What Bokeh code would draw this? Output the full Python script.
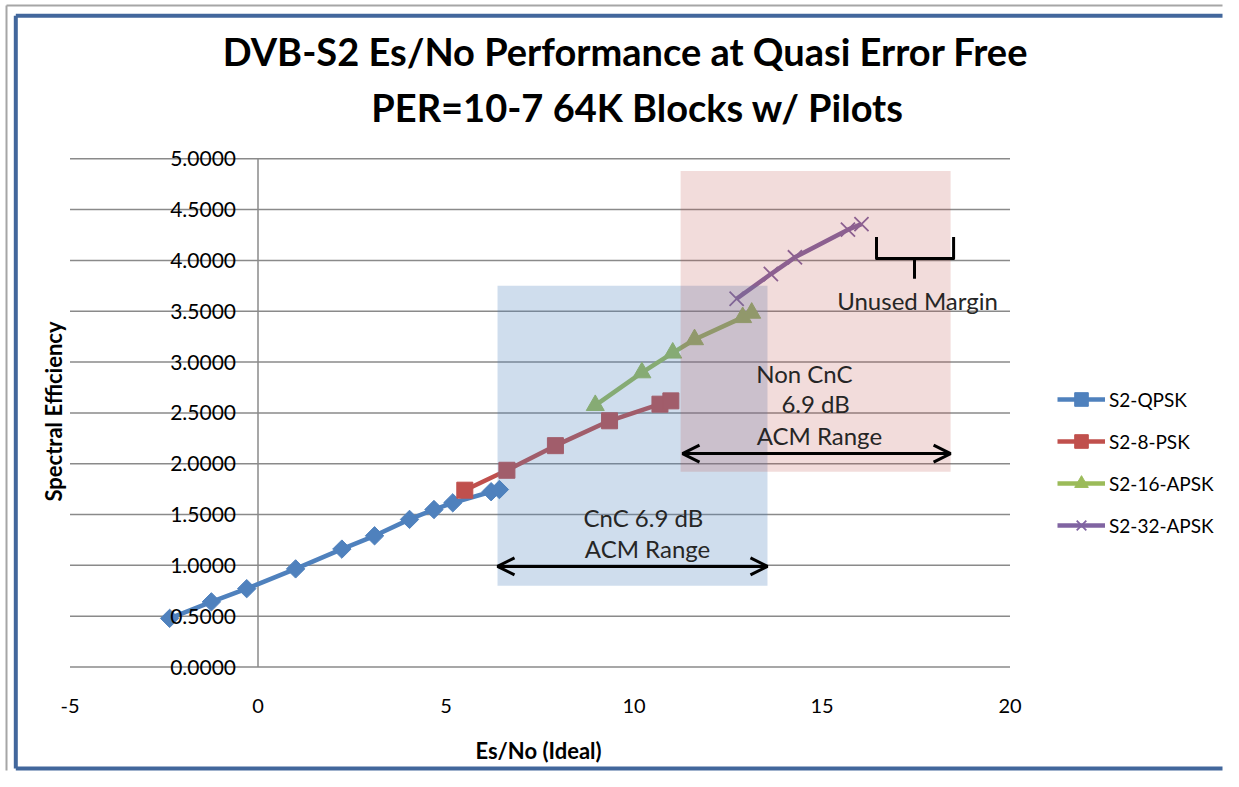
import math
from bokeh.plotting import figure
from bokeh.models import Legend, LegendItem, Arrow, OpenHead
from bokeh.core.properties import value
from bokeh.embed import file_html
from bokeh.resources import INLINE

# ---------------- data ----------------
qpsk_esno = [-2.35, -1.24, -0.30, 1.00, 2.23, 3.10, 4.03, 4.68, 5.18, 6.20, 6.42]
qpsk_se = [0.4786, 0.6408, 0.7706, 0.9653, 1.1600, 1.2908, 1.4521, 1.5494, 1.6153, 1.7244, 1.7460]

psk8_esno = [5.50, 6.62, 7.91, 9.35, 10.69, 10.98]
psk8_se = [1.7396, 1.9357, 2.1776, 2.4223, 2.5860, 2.6184]

apsk16_esno = [8.97, 10.21, 11.03, 11.61, 12.89, 13.13]
apsk16_se = [2.5747, 2.8964, 3.0906, 3.2220, 3.4396, 3.4828]

apsk32_esno = [12.73, 13.64, 14.28, 15.69, 16.05]
apsk32_se = [3.6233, 3.8663, 4.0306, 4.3029, 4.3569]

series_names = ["S2-QPSK", "S2-8-PSK", "S2-16-APSK", "S2-32-APSK"]

x_ticks = [-5, 0, 5, 10, 15, 20]
x_tick_labels = ["-5", "0", "5", "10", "15", "20"]
y_ticks = [0.0, 0.5, 1.0, 1.5, 2.0, 2.5, 3.0, 3.5, 4.0, 4.5, 5.0]
y_tick_labels = ["0.0000", "0.5000", "1.0000", "1.5000", "2.0000", "2.5000",
                 "3.0000", "3.5000", "4.0000", "4.5000", "5.0000"]

title_lines = ["DVB-S2 Es/No Performance at Quasi Error Free", "PER=10-7 64K Blocks w/ Pilots"]
x_title = "Es/No (Ideal)"
y_title = "Spectral Efficiency"

# ACM range boxes (Es/No range, spectral-efficiency extent)
range_left = [6.37, 11.24]
range_right = [13.55, 18.42]
range_bottom = [0.80, 1.92]
range_top = [3.75, 4.88]

# range arrows
arrow_x0 = [6.37, 11.29]
arrow_x1 = [13.55, 18.42]
arrow_y = [0.99, 2.10]

# annotation texts
note_x = [14.53, 14.83, 14.93, 10.25, 10.36, 17.54]
note_y = [2.89, 2.59, 2.28, 1.47, 1.17, 3.61]
note_text = ["Non CnC", "6.9 dB", "ACM Range", "CnC 6.9 dB", "ACM Range", "Unused Margin"]

# "unused margin" brace
brace_xs = [[16.45, 16.45, 18.50, 18.50], [17.46, 17.46]]
brace_ys = [[4.23, 4.02, 4.02, 4.23], [4.02, 3.82]]

# ---------------- layout ----------------
W, H = 1223, 771
PX_XMIN, PX_XMAX = 69.5, 1009.5      # pixel columns of x = -5 and x = 20
PX_YMIN, PX_YMAX = 666.5, 158.3      # pixel rows of y = 0 and y = 5
KX = (PX_XMAX - PX_XMIN) / (x_ticks[-1] - x_ticks[0])
KY = (PX_YMIN - PX_YMAX) / (y_ticks[-1] - y_ticks[0])


def X(px):
    return x_ticks[0] + (px - PX_XMIN) / KX


def Y(py):
    return y_ticks[0] + (PX_YMIN - py) / KY


FONT = "Lato"
GRID = "#8a8a8a"
TXT = "black"
C_QPSK, C_8PSK, C_16, C_32 = "#4f81bd", "#c0504d", "#9bbb59", "#8064a2"

p = figure(width=W, height=H, x_range=(X(0), X(W)), y_range=(Y(H), Y(0)),
           output_backend="svg", toolbar_location=None,
           x_axis_location=None, y_axis_location=None, min_border=0)
p.title.visible = False
p.outline_line_color = None
p.grid.visible = False
p.background_fill_color = "white"
p.border_fill_color = "white"

# chart borders (outer grey line, inner blue line); open on the right like the cropped original
p.segment(x0=[X(6), X(6)], y0=[Y(5), Y(5)], x1=[X(6), X(W - 1)], y1=[Y(H - 1), Y(5)],
          line_color="#a6a6a6", line_width=2)
p.segment(x0=[X(15.3), X(15.3), X(15.3)], y0=[Y(15.3), Y(15.3), Y(H - 3)],
          x1=[X(15.3), X(W - 1), X(W - 1)], y1=[Y(H - 3), Y(15.3), Y(H - 3)],
          line_color="#42679c", line_width=4)

# gridlines and vertical axis line
p.segment(x0=[x_ticks[0]] * len(y_ticks), x1=[x_ticks[-1]] * len(y_ticks),
          y0=y_ticks, y1=y_ticks, line_color=GRID, line_width=1.5)
p.segment(x0=[0], x1=[0], y0=[y_ticks[0]], y1=[y_ticks[-1]], line_color=GRID, line_width=1.5)

# series
l1 = p.line(qpsk_esno, qpsk_se, line_color=C_QPSK, line_width=4.5)
s1 = p.scatter(qpsk_esno, qpsk_se, marker="square", angle=math.pi / 4, size=13,
               fill_color=C_QPSK, line_color=C_QPSK)
l2 = p.line(psk8_esno, psk8_se, line_color=C_8PSK, line_width=4.5)
s2 = p.scatter(psk8_esno, psk8_se, marker="square", size=16, fill_color=C_8PSK, line_color=C_8PSK)
l3 = p.line(apsk16_esno, apsk16_se, line_color=C_16, line_width=4.5)
s3 = p.scatter(apsk16_esno, apsk16_se, marker="triangle", size=18, fill_color=C_16, line_color=C_16)
l4 = p.line(apsk32_esno, apsk32_se, line_color=C_32, line_width=4.5)
s4 = p.scatter(apsk32_esno, apsk32_se, marker="x", size=20, line_color=C_32, line_width=1.8)

# shaded ACM ranges (drawn over the series, semi-transparent)
p.quad(left=range_left[:1], right=range_right[:1], bottom=range_bottom[:1], top=range_top[:1],
       fill_color=C_QPSK, fill_alpha=0.27, line_color=None)
p.quad(left=range_left[1:], right=range_right[1:], bottom=range_bottom[1:], top=range_top[1:],
       fill_color=C_8PSK, fill_alpha=0.2, line_color=None)

# arrows
for xa, xb, ya in zip(arrow_x0, arrow_x1, arrow_y):
    p.add_layout(Arrow(start=OpenHead(size=17, line_width=3, line_color="black"),
                       end=OpenHead(size=17, line_width=3, line_color="black"),
                       x_start=xa, y_start=ya, x_end=xb, y_end=ya,
                       line_width=3, line_color="black"))

p.text(x=note_x, y=note_y, text=note_text, text_font=value(FONT), text_font_size="24px",
       text_align="center", text_baseline="middle", text_color="#262626")

p.multi_line(xs=brace_xs, ys=brace_ys, line_color="black", line_width=3, line_join="round")

# tick labels
p.text(x=[0] * len(y_ticks), y=y_ticks, text=y_tick_labels, x_offset=-22,
       text_align="right", text_baseline="middle",
       text_font=value(FONT), text_font_size="21px", text_color=TXT)
p.text(x=x_ticks, y=[Y(705)] * len(x_ticks), text=x_tick_labels,
       text_align="center", text_baseline="middle",
       text_font=value(FONT), text_font_size="20px", text_color=TXT)

# axis titles
p.text(x=[X(538)], y=[Y(750)], text=[x_title], text_align="center", text_baseline="middle",
       text_font=value(FONT), text_font_size="22px", text_font_style="bold", text_color=TXT)
p.text(x=[X(53)], y=[Y(411)], text=[y_title], angle=math.pi / 2,
       text_align="center", text_baseline="middle",
       text_font=value(FONT), text_font_size="22px", text_font_style="bold", text_color=TXT)

# chart title (two lines)
p.text(x=[X(625), X(637)], y=[Y(50.5), Y(106)], text=title_lines,
       text_align="center", text_baseline="middle",
       text_font=value(FONT), text_font_size="38px", text_font_style="bold", text_color=TXT)

legend = Legend(items=[LegendItem(label=series_names[0], renderers=[l1, s1]),
                       LegendItem(label=series_names[1], renderers=[l2, s2]),
                       LegendItem(label=series_names[2], renderers=[l3, s3]),
                       LegendItem(label=series_names[3], renderers=[l4, s4])],
                location=(1057, H - 542), orientation="vertical",
                glyph_width=48, glyph_height=34, label_height=34, label_standoff=4,
                spacing=8, padding=0, margin=0, border_line_color=None,
                background_fill_alpha=0,
                label_text_font=FONT, label_text_font_size="19px", label_text_color=TXT)
p.add_layout(legend, "center")

open("out.html", "w").write(file_html(p, INLINE))
